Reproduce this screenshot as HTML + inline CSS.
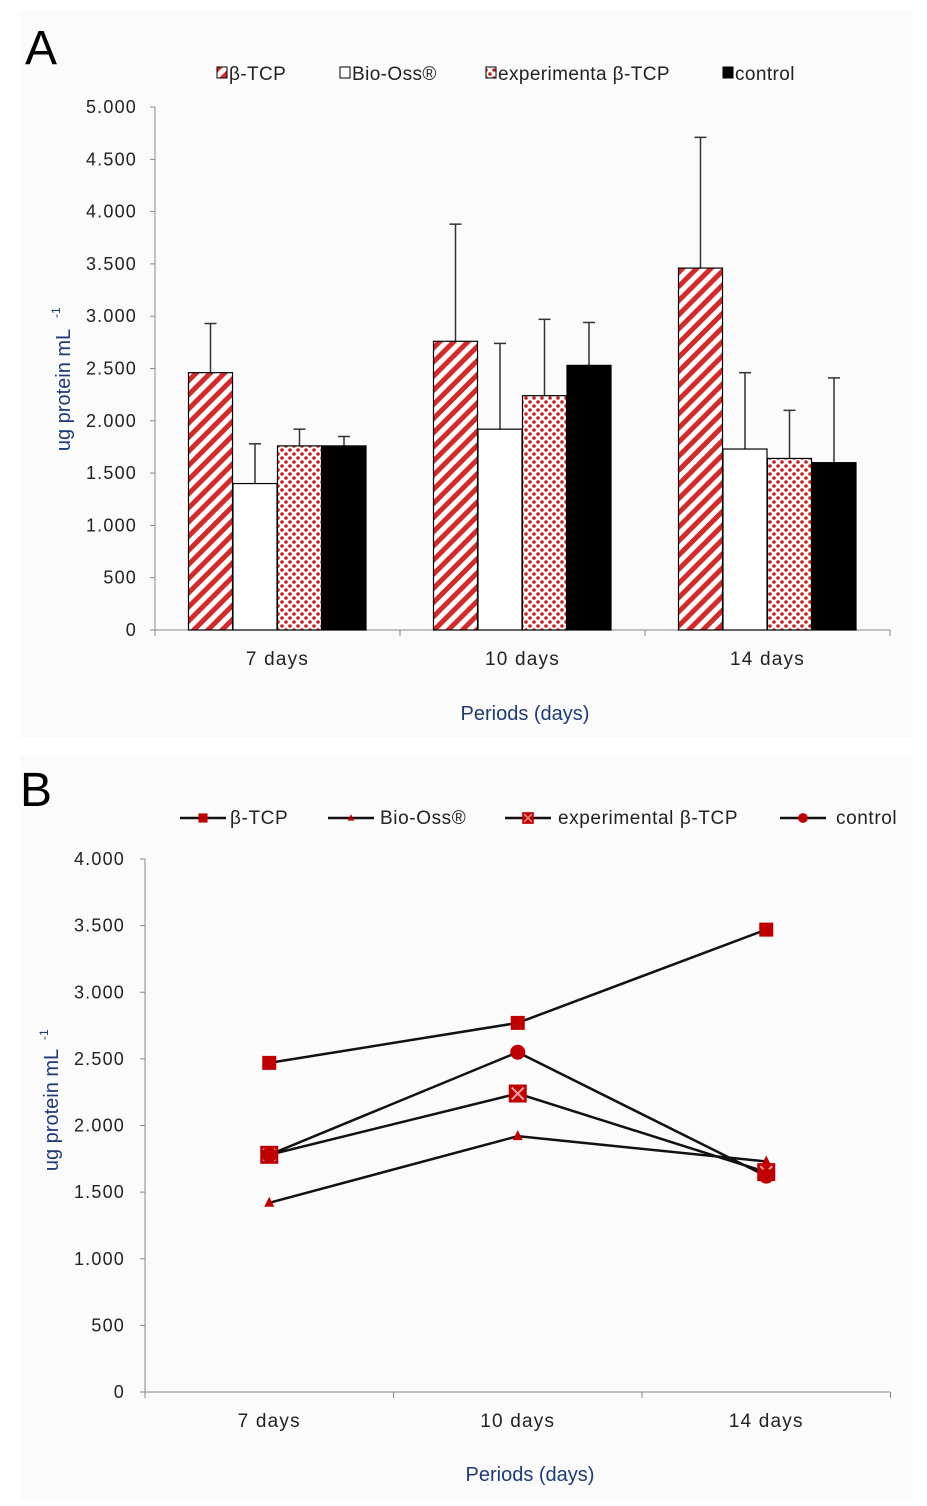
<!DOCTYPE html>
<html><head><meta charset="utf-8"><style>
body{margin:0;background:#fff;width:927px;height:1506px;overflow:hidden}
svg{display:block;font-family:"Liberation Sans",sans-serif}
</style></head><body>
<svg id="s" width="927" height="1506">
<defs>
<pattern id="hatch" width="10" height="10" patternUnits="userSpaceOnUse" patternTransform="rotate(45)"><rect width="10" height="10" fill="#fff"/><rect width="5" height="10" fill="#d42a2a"/></pattern>
<pattern id="dots" width="8" height="8" patternUnits="userSpaceOnUse"><rect width="8" height="8" fill="#fff"/><circle cx="2" cy="2" r="1.8" fill="#c82020"/><circle cx="6" cy="6" r="1.8" fill="#c82020"/></pattern>
</defs>
<rect x="20" y="10" width="892" height="728" fill="#fbfbfb"/>
<rect x="20" y="755" width="892" height="745" fill="#fbfbfb"/>
<text x="25" y="64" font-size="48">A</text>
<text x="20" y="806" font-size="48">B</text>
<g id="ga"></g><g id="gb"></g>
</svg>
<script>
const cats=["7 days","10 days","14 days"];
const seriesNames=["β-TCP","Bio-Oss®","experimenta β-TCP","control"];
const seriesNamesB=["β-TCP","Bio-Oss®","experimental β-TCP","control"];
const tcp=[2460,2760,3460];
const bio=[1400,1920,1730];
const exp=[1760,2240,1640];
const ctl=[1760,2530,1600];
const tcpErr=[2930,3880,4710];
const bioErr=[1780,2740,2460];
const expErr=[1920,2970,2100];
const ctlErr=[1850,2940,2410];
const ticksA=[0,500,1000,1500,2000,2500,3000,3500,4000,4500,5000];
const tcpB=[2470,2770,3470];
const bioB=[1420,1920,1730];
const expB=[1780,2240,1650];
const ctlB=[1780,2550,1620];
const ticksB=[0,500,1000,1500,2000,2500,3000,3500,4000];
const NS="http://www.w3.org/2000/svg";
function mk(p,t,a,txt){const e=document.createElementNS(NS,t);for(const k in a)e.setAttribute(k,a[k]);if(txt!=null)e.textContent=txt;p.appendChild(e);return e;}
function fmt(v){return v>=1000?Math.floor(v/1000)+"."+String(v%1000).padStart(3,"0"):String(v);}
const TS={'font-size':18,fill:'#222','letter-spacing':'1.2'};
function tx(p,a,t){return mk(p,'text',Object.assign({},TS,a),t);}
// Chart A
const ga=document.getElementById('ga');
const yA=v=>630-v*523/5000, x0A=155,cwA=245;
const xA=i=>x0A+cwA*(i+0.5);
let e;
e=mk(ga,'line',{x1:155,y1:107,x2:155,y2:630,stroke:'#888'});

e=mk(ga,'line',{x1:155,y1:630,x2:890,y2:630,stroke:'#888'});

ticksA.forEach(t=>{mk(ga,'line',{x1:150,y1:yA(t),x2:155,y2:yA(t),stroke:'#888'});
e=tx(ga,{x:137,y:yA(t)+6,'text-anchor':'end'},fmt(t));
});
for(let i=0;i<=3;i++)mk(ga,'line',{x1:x0A+cwA*i,y1:630,x2:x0A+cwA*i,y2:636,stroke:'#888'});
cats.forEach((c,i)=>{e=tx(ga,{x:xA(i),y:665,'text-anchor':'middle','font-size':19},c);
});
const sA=[tcp,bio,exp,ctl],eA=[tcpErr,bioErr,expErr,ctlErr],fills=['url(#hatch)','#fff','url(#dots)','#000'];
sA.forEach((s,k)=>s.forEach((v,i)=>{const bx=xA(i)-89+k*44.5;
mk(ga,'line',{x1:bx+22,y1:yA(eA[k][i]),x2:bx+22,y2:yA(v),stroke:'#333','stroke-width':1.5});
mk(ga,'line',{x1:bx+16,y1:yA(eA[k][i]),x2:bx+28,y2:yA(eA[k][i]),stroke:'#333','stroke-width':1.5});
e=mk(ga,'rect',{x:bx,y:yA(v),width:44,height:yA(0)-yA(v),fill:fills[k],stroke:'#000','stroke-width':1.2});
}));
const lgx=[217,340,486,723];
seriesNames.forEach((n,k)=>{mk(ga,'rect',{x:lgx[k],y:67,width:10,height:11,fill:fills[k],stroke:'#000'});
e=tx(ga,{x:lgx[k]+12,y:80,'font-size':19,'letter-spacing':'0.4'},n);
});
e=mk(ga,'text',{transform:'translate(70,390) rotate(-90)','font-size':20,'text-anchor':'middle',fill:'#1f3a78'},'ug protein mL');

mk(ga,'text',{transform:'translate(60,318) rotate(-90)','font-size':12,fill:'#1f3a78'},'-1');
e=mk(ga,'text',{x:525,y:720,'font-size':20,'text-anchor':'middle',fill:'#1f3a78'},'Periods (days)');

// Chart B
const gb=document.getElementById('gb');
const yB=v=>1392-v*533/4000,x0B=145,cwB=248.5;
const xB=i=>x0B+cwB*(i+0.5);
e=mk(gb,'line',{x1:145,y1:859,x2:145,y2:1392,stroke:'#888'});

e=mk(gb,'line',{x1:145,y1:1392,x2:890,y2:1392,stroke:'#888'});

ticksB.forEach(t=>{mk(gb,'line',{x1:140,y1:yB(t),x2:145,y2:yB(t),stroke:'#888'});
e=tx(gb,{x:125,y:yB(t)+6,'text-anchor':'end'},fmt(t));
});
for(let i=0;i<=3;i++)mk(gb,'line',{x1:x0B+cwB*i,y1:1392,x2:x0B+cwB*i,y2:1398,stroke:'#888'});
cats.forEach((c,i)=>{e=tx(gb,{x:xB(i),y:1427,'text-anchor':'middle','font-size':19},c);
});
const sB=[tcpB,bioB,expB,ctlB];
function marker(p,k,x,y){
 if(k==0)return mk(p,'rect',{x:x-7,y:y-7,width:14,height:14,fill:'#c00000'});
 if(k==1)return mk(p,'polygon',{points:`${x},${y-6} ${x-5},${y+4} ${x+5},${y+4}`,fill:'#c00000'});
 if(k==2){const g=mk(p,'g',{});mk(g,'rect',{x:x-9,y:y-9,width:18,height:18,fill:'#c00000'});mk(g,'path',{d:`M${x-6} ${y-6}L${x+6} ${y+6}M${x+6} ${y-6}L${x-6} ${y+6}`,stroke:'#f0a0a0','stroke-width':2});return g;}
 return mk(p,'circle',{cx:x,cy:y,r:7.5,fill:'#c00000'});
}
sB.forEach((s,k)=>{e=mk(gb,'polyline',{points:s.map((v,i)=>xB(i)+','+yB(v)).join(' '),fill:'none',stroke:'#111','stroke-width':2.5});
});
sB.forEach((s,k)=>s.forEach((v,i)=>{e=marker(gb,k,xB(i),yB(v));
}));
const lbx=[180,328,505,780];
const ltx=[230,380,558,836];
seriesNamesB.forEach((n,k)=>{mk(gb,'line',{x1:lbx[k],y1:818,x2:lbx[k]+46,y2:818,stroke:'#111','stroke-width':2.5});
const m=marker(gb,k,lbx[k]+23,818);m.setAttribute('transform',`translate(${(lbx[k]+23)*0.35},${818*0.35}) scale(0.65)`);
e=tx(gb,{x:ltx[k],y:824,'font-size':19,'letter-spacing':'0.6'},n);
});
e=mk(gb,'text',{transform:'translate(58,1110) rotate(-90)','font-size':20,'text-anchor':'middle',fill:'#1f3a78'},'ug protein mL');

mk(gb,'text',{transform:'translate(48,1040) rotate(-90)','font-size':12,fill:'#1f3a78'},'-1');
e=mk(gb,'text',{x:530,y:1481,'font-size':20,'text-anchor':'middle',fill:'#1f3a78'},'Periods (days)');

</script>
</body></html>
